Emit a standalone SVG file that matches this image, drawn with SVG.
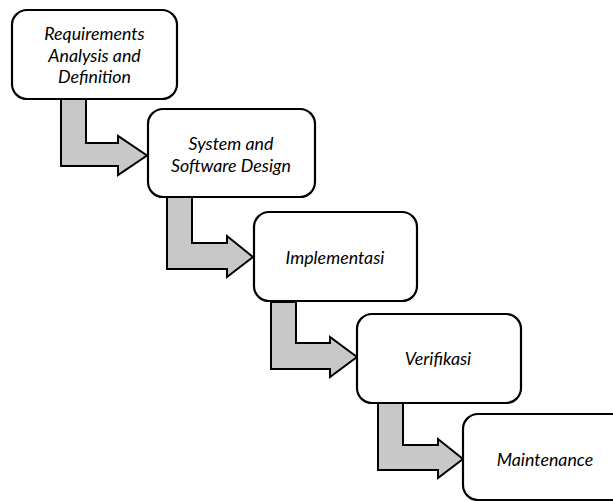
<svg xmlns="http://www.w3.org/2000/svg" width="613" height="501" viewBox="0 0 613 501">
<style>
.box{fill:#fff;stroke:#000;stroke-width:2.2}
.arr{fill:#c8c8c8;stroke:#000;stroke-width:2;stroke-linejoin:miter}
text{font-family:Lato,"Open Sans","Liberation Sans",sans-serif;font-style:italic;font-size:17.8px;fill:#000;text-anchor:middle;dominant-baseline:central}
</style>
<rect width="613" height="501" fill="#fff"/>
<g id="connectors">
<path class="arr" d="M61,99 V166 H118 V175 L147,155.5 L118,136 V143 H86 V99 Z"/>
<path class="arr" d="M167,197 V269 H227 V277 L253,257 L227,236 V243 H192 V197 Z"/>
<path class="arr" d="M271,302 V369 H330 V377 L357,357 L330,337 V343 H296 V302 Z"/>
<path class="arr" d="M378,403 V470 H438 V478 L463,459 L438,439 V445 H403 V403 Z"/>
</g>
<g id="node1">
<rect class="box" x="12" y="10" width="165" height="89" rx="15"/>
<text x="94.5" y="33">Requirements</text>
<text x="94.5" y="54.6">Analysis and</text>
<text x="94.5" y="76.2">Definition</text>
</g>
<g id="node2">
<rect class="box" x="148" y="109" width="167" height="88" rx="15"/>
<text x="231" y="143.2">System and</text>
<text x="231" y="164.8">Software Design</text>
</g>
<g id="node3">
<rect class="box" x="254" y="212" width="163" height="89" rx="15"/>
<text x="335" y="257">Implementasi</text>
</g>
<g id="node4">
<rect class="box" x="357" y="314" width="164" height="89" rx="15"/>
<text x="438" y="358">Verifikasi</text>
</g>
<g id="node5">
<rect class="box" x="463" y="414" width="170" height="86" rx="15"/>
<text x="545" y="459">Maintenance</text>
</g>
</svg>
